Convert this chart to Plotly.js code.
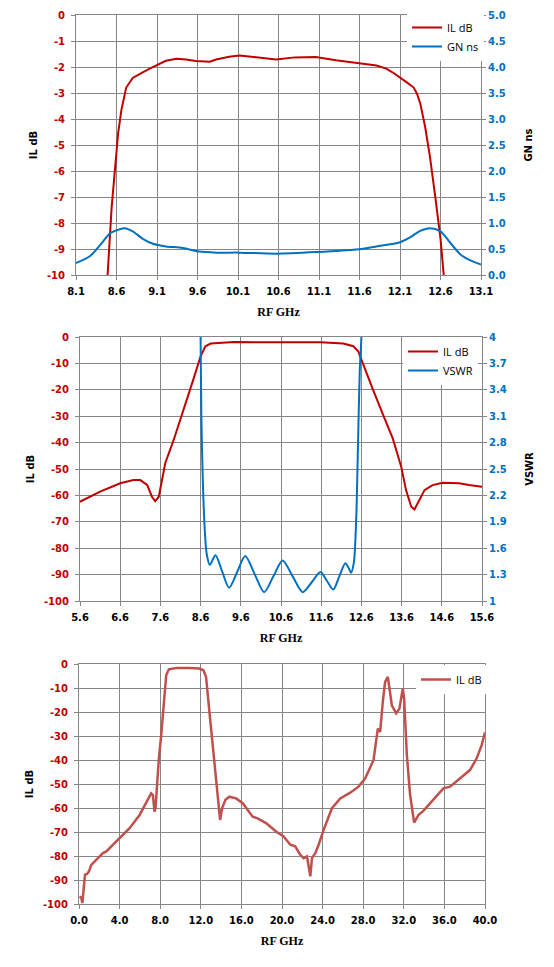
<!DOCTYPE html>
<html>
<head>
<meta charset="utf-8">
<script src="https://cdn.plot.ly/plotly-3.0.1.min.js"></script>
<style>
html,body{margin:0;padding:0;background:#fff;}
#chart{width:554px;height:967px;}
</style>
</head>
<body>
<div id="chart"></div>
<script>
// ---------- Chart 1 : IL dB and GN ns, 8.1 - 13.1 GHz ----------
const c1Freq = [8.47, 8.49, 8.54, 8.58, 8.62, 8.66, 8.72, 8.8, 8.85, 8.89, 9.01, 9.09, 9.21, 9.34, 9.46, 9.58, 9.75, 9.83, 9.99, 10.12, 10.28, 10.44, 10.57, 10.8, 11.06, 11.31, 11.56, 11.81, 11.93, 12.02, 12.18, 12.27, 12.31, 12.35, 12.41, 12.47, 12.54, 12.6, 12.64, 12.66];
const c1IL = [-10.6, -10, -7.4, -5.8, -4.55, -3.66, -2.79, -2.42, -2.32, -2.26, -2.06, -1.93, -1.76, -1.68, -1.71, -1.77, -1.8, -1.71, -1.61, -1.56, -1.61, -1.68, -1.71, -1.63, -1.62, -1.74, -1.83, -1.94, -2.06, -2.23, -2.58, -2.79, -3.03, -3.4, -4.3, -5.46, -7.1, -8.6, -10, -10.6];
const c1GnFreq = [8.1, 8.27, 8.4, 8.52, 8.64, 8.7, 8.8, 8.93, 9.05, 9.21, 9.42, 9.62, 9.83, 10.12, 10.57, 11.06, 11.56, 11.81, 12.1, 12.23, 12.35, 12.47, 12.6, 12.72, 12.85, 12.97, 13.1];
const c1GN = [0.23, 0.36, 0.58, 0.80, 0.88, 0.9, 0.84, 0.69, 0.6, 0.55, 0.52, 0.45, 0.43, 0.43, 0.41, 0.44, 0.49, 0.55, 0.63, 0.73, 0.85, 0.9, 0.84, 0.62, 0.39, 0.28, 0.2];

// ---------- Chart 2 : IL dB and VSWR, 5.6 - 15.6 GHz ----------
const c2Freq = [5.6, 6.1, 6.6, 6.93, 7.1, 7.27, 7.39, 7.47, 7.56, 7.64, 7.72, 7.93, 8.18, 8.43, 8.6, 8.72, 8.85, 9.43, 10.5, 11.58, 12.15, 12.4, 12.52, 12.64, 12.89, 13.14, 13.38, 13.59, 13.71, 13.84, 13.92, 14.0, 14.17, 14.37, 14.62, 15.03, 15.28, 15.6];
const c2IL = [-62.4, -58.6, -55.4, -54.2, -54.2, -56, -60.5, -62.2, -60.5, -54.2, -47.8, -39, -27.6, -15.6, -7.3, -3.5, -2.5, -1.9, -2.0, -2.0, -2.5, -3.5, -5.4, -9.9, -20, -29.5, -38.4, -49.1, -58, -64.3, -65.3, -63, -58, -56.1, -55.2, -55.4, -56.1, -56.7];
const c2VsFreq = [8.59, 8.6, 8.62, 8.66, 8.7, 8.75, 8.83, 8.97, 9.14, 9.31, 9.51, 9.71, 9.95, 10.18, 10.41, 10.64, 10.89, 11.14, 11.36, 11.58, 11.74, 11.9, 12.05, 12.2, 12.29, 12.34, 12.41, 12.47, 12.52, 12.56, 12.6, 12.62];
const c2VSWR = [4.3, 4.0, 3.06, 2.3, 1.84, 1.54, 1.41, 1.52, 1.33, 1.15, 1.33, 1.51, 1.30, 1.1, 1.28, 1.46, 1.28, 1.1, 1.21, 1.33, 1.23, 1.13, 1.28, 1.43, 1.37, 1.32, 1.43, 1.92, 2.87, 3.63, 4.0, 4.4];

// ---------- Chart 3 : IL dB, 0 - 40 GHz ----------
const c3Freq = [0.07, 0.23, 0.33, 0.46, 0.59, 0.79, 0.98, 1.21, 1.7, 2.03, 2.36, 2.69, 3.34, 4.0, 4.98, 5.97, 6.62, 7.11, 7.28, 7.44, 7.54, 7.67, 7.87, 8.1, 8.36, 8.59, 8.85, 9.57, 10.89, 11.87, 12.26, 12.52, 12.85, 13.34, 13.67, 13.9, 14.1, 14.43, 14.82, 15.48, 16.13, 16.62, 17.11, 17.6, 18.43, 19.41, 20.16, 20.82, 21.3, 21.8, 22.13, 22.46, 22.62, 22.79, 22.95, 23.28, 23.61, 24.1, 24.92, 25.74, 26.72, 27.54, 28.2, 29.02, 29.44, 29.67, 29.93, 30.16, 30.43, 30.82, 31.25, 31.57, 31.9, 32.03, 32.3, 32.62, 33.02, 33.44, 33.93, 34.92, 35.9, 36.56, 37.54, 38.52, 39.18, 39.67, 40.0];
const c3IL = [-96.8, -97.5, -99.6, -92, -87.8, -87.5, -86.4, -83.7, -81.6, -80.6, -78.8, -78.1, -75.3, -72.3, -68.4, -62.9, -58, -53.9, -54.6, -61.5, -60, -50.4, -39.3, -29.6, -15.8, -4.7, -2.2, -1.7, -1.7, -1.9, -2.6, -5.4, -19.9, -40.7, -57.3, -65, -60, -56.6, -55.3, -56, -58, -60.8, -63.6, -64.3, -66.3, -69.8, -71.9, -75.3, -76, -79.5, -80.9, -80.2, -83.7, -88.5, -80.9, -78.8, -75.3, -69.1, -60.1, -56, -53.6, -51.1, -47.6, -40, -26.9, -28.3, -15.8, -7.5, -5.4, -17.2, -20.6, -18.6, -10.2, -14.4, -37.9, -54.6, -66.1, -62.9, -61.2, -56.6, -51.8, -51.1, -47.6, -44.2, -39.3, -33.8, -28.5];

// tick labels
const c1XTicks = [8.1, 8.6, 9.1, 9.6, 10.1, 10.6, 11.1, 11.6, 12.1, 12.6, 13.1];
const c1YTicks = [-10, -9, -8, -7, -6, -5, -4, -3, -2, -1, 0];
const c1GnTicks = [0, 0.5, 1, 1.5, 2, 2.5, 3, 3.5, 4, 4.5, 5];
const c2XTicks = [5.6, 6.6, 7.6, 8.6, 9.6, 10.6, 11.6, 12.6, 13.6, 14.6, 15.6];
const c2YTicks = [-100, -90, -80, -70, -60, -50, -40, -30, -20, -10, 0];
const c2VsTicks = [1, 1.3, 1.6, 1.9, 2.2, 2.5, 2.8, 3.1, 3.4, 3.7, 4];
const c3XTicks = [0, 4, 8, 12, 16, 20, 24, 28, 32, 36, 40];
const c3YTicks = [-100, -90, -80, -70, -60, -50, -40, -30, -20, -10, 0];

const RED = '#C00000', BLUE = '#0070C0', RED3 = '#C0504D', GRID = '#868686';
const W = 554, H = 967;
const px = (a, b) => [a / W, b / W];
const py = (top, bottom) => [1 - bottom / H, 1 - top / H];

const tickFont = (c) => ({family: 'DejaVu Sans, Verdana, sans-serif', size: 10, color: c, weight: 'bold'});
const xTitle = {text: 'RF GHz', font: {family: 'Liberation Serif, Times New Roman, serif', size: 12, color: '#000', weight: 'bold'}, standoff: 11};
const yTitle = (t, s) => ({text: t, font: {family: 'DejaVu Sans, Verdana, sans-serif', size: 10, color: '#000', weight: 'bold'}, standoff: s});

function xAx(dom, yref, range, ticks) {
  return {domain: dom, anchor: yref, range: range, tickvals: ticks,
    ticktext: ticks.map(v => v.toFixed(1)), showgrid: true, gridcolor: GRID, gridwidth: 1,
    showline: true, linecolor: GRID, linewidth: 1, mirror: true, zeroline: false,
    ticks: 'outside', ticklen: 4, tickcolor: GRID, tickfont: tickFont('#000'),
    ticklabelstandoff: 3, title: xTitle, fixedrange: true};
}
function yAx(dom, xref, range, ticks, color, title) {
  return {domain: dom, anchor: xref, range: range, tickvals: ticks, ticktext: ticks.map(String),
    showgrid: true, gridcolor: GRID, gridwidth: 1, showline: true, linecolor: GRID, linewidth: 1,
    mirror: true, zeroline: false, ticks: 'outside', ticklen: 4, tickcolor: GRID,
    tickfont: tickFont(color), ticklabelstandoff: 4, title: yTitle(title, 7), fixedrange: true};
}
function y2Ax(overlay, xref, range, ticks, labels, color, title) {
  return {overlaying: overlay, anchor: xref, side: 'right', range: range,
    tickvals: ticks, ticktext: labels,
    showgrid: false, showline: true, linecolor: GRID, linewidth: 1, zeroline: false,
    ticks: 'outside', ticklen: 4, tickcolor: GRID, tickfont: tickFont(color),
    title: yTitle(title, 20), fixedrange: true};
}

const traces = [
  {x: c1Freq, y: c1IL, name: 'IL dB', mode: 'lines', line: {color: RED, width: 2}, xaxis: 'x', yaxis: 'y', legend: 'legend'},
  {x: c1GnFreq, y: c1GN, name: 'GN ns', mode: 'lines', line: {color: BLUE, width: 2, shape: 'spline', smoothing: 0.8}, xaxis: 'x', yaxis: 'y2', legend: 'legend'},
  {x: c2Freq, y: c2IL, name: 'IL dB', mode: 'lines', line: {color: RED, width: 2}, xaxis: 'x2', yaxis: 'y3', legend: 'legend2'},
  {x: c2VsFreq, y: c2VSWR, name: 'VSWR', mode: 'lines', line: {color: BLUE, width: 2, shape: 'spline', smoothing: 0.8}, xaxis: 'x2', yaxis: 'y4', legend: 'legend2'},
  {x: c3Freq, y: c3IL, name: 'IL dB', mode: 'lines', line: {color: RED3, width: 2.5}, xaxis: 'x3', yaxis: 'y5', legend: 'legend3'}
];

const legFont = {family: 'Open Sans, Liberation Sans, sans-serif', size: 11, color: '#000'};
const leg = (x, y) => ({x: x / W, y: 1 - y / H, xanchor: 'left', yanchor: 'top', bgcolor: '#fff',
  borderwidth: 0, font: legFont, tracegroupgap: 0, itemwidth: 30});

const layout = {
  width: W, height: H, margin: {l: 0, r: 0, t: 0, b: 0},
  paper_bgcolor: '#fff', plot_bgcolor: '#fff', showlegend: true,
  xaxis: xAx(px(76, 481), 'y', [8.1, 13.1], c1XTicks),
  yaxis: yAx(py(15, 275), 'x', [-10, 0], c1YTicks, RED, 'IL dB'),
  yaxis2: y2Ax('y', 'x', [0, 5], c1GnTicks, c1GnTicks.map(v => v.toFixed(1)), BLUE, 'GN ns'),
  xaxis2: xAx(px(80, 482), 'y3', [5.6, 15.6], c2XTicks),
  yaxis3: yAx(py(337, 601), 'x2', [-100, 0], c2YTicks, RED, 'IL dB'),
  yaxis4: y2Ax('y3', 'x2', [1, 4], c2VsTicks, c2VsTicks.map(String), BLUE, 'VSWR'),
  xaxis3: xAx(px(79, 485), 'y5', [0, 40], c3XTicks),
  yaxis5: yAx(py(664, 904), 'x3', [-100, 0], c3YTicks, RED, 'IL dB'),
  legend: leg(407, 13),
  legend2: leg(403, 337),
  legend3: leg(416, 665)
};

Plotly.newPlot('chart', traces, layout, {displayModeBar: false, staticPlot: true});
</script>
</body>
</html>
